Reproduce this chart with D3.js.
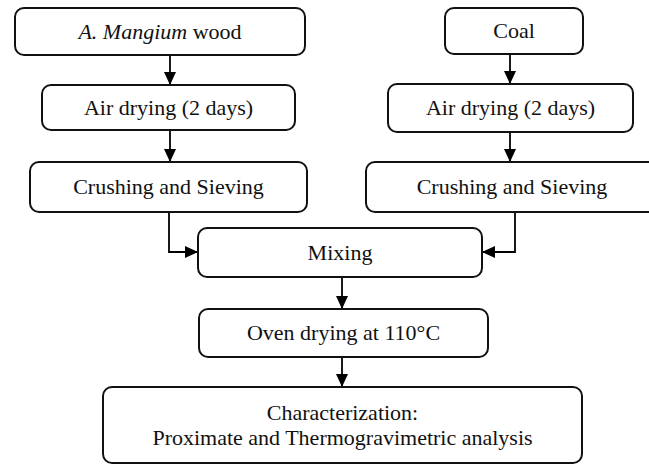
<!DOCTYPE html>
<html>
<head>
<meta charset="utf-8">
<script src="https://cdn.jsdelivr.net/npm/d3@7"></script>
<style>
  body { margin: 0; background: #fff; }
  text { font-family: "Liberation Serif", "Times New Roman", serif; fill: #111; }
</style>
</head>
<body>
<svg id="canvas" width="649" height="464"></svg>
<script>
/********** Data **********/
var steps = ["wood", "airL", "crushL", "coal", "airR", "crushR", "mix", "oven", "char"];
var labels = [
  [[{t: "A. Mangium", i: true}, {t: " wood"}]],
  [[{t: "Air drying (2 days)"}]],
  [[{t: "Crushing and Sieving"}]],
  [[{t: "Coal"}]],
  [[{t: "Air drying (2 days)"}]],
  [[{t: "Crushing and Sieving"}]],
  [[{t: "Mixing"}]],
  [[{t: "Oven drying at 110°C"}]],
  [[{t: "Characterization:"}], [{t: "Proximate and Thermogravimetric analysis"}]]
];
var links = [
  ["wood", "airL"], ["airL", "crushL"],
  ["coal", "airR"], ["airR", "crushR"],
  ["crushL", "mix"], ["crushR", "mix"],
  ["mix", "oven"], ["oven", "char"]
];

/********** Layout **********/
var box = {
  wood:   {x0: 15,  x1: 305, y0: 8,   y1: 55},
  airL:   {x0: 42,  x1: 295, y0: 85,  y1: 130},
  crushL: {x0: 30,  x1: 307, y0: 162, y1: 212},
  coal:   {x0: 445, x1: 583, y0: 8,   y1: 54},
  airR:   {x0: 388, x1: 633, y0: 84,  y1: 132},
  crushR: {x0: 366, x1: 660, y0: 162, y1: 212, tx: 512},
  mix:    {x0: 198, x1: 482, y0: 228, y1: 277},
  oven:   {x0: 199, x1: 488, y0: 309, y1: 357},
  char:   {x0: 103, x1: 582, y0: 387, y1: 463}
};
var colX = {wood: 170, airL: 170, crushL: 169, coal: 510, airR: 510, crushR: 515, mix: 342, oven: 342};
var joinY = 252;

var svg = d3.select("#canvas");

svg.append("defs").append("marker")
  .attr("id", "head")
  .attr("markerUnits", "userSpaceOnUse")
  .attr("viewBox", "0 0 13 12")
  .attr("refX", 13).attr("refY", 6)
  .attr("markerWidth", 13).attr("markerHeight", 12)
  .attr("orient", "auto")
  .append("path").attr("d", "M0,0L13,6L0,12Z").attr("fill", "#000");

/********** Links **********/
var line = d3.line();
function route(l) {
  var a = box[l[0]], b = box[l[1]], x = colX[l[0]];
  if (l[1] === "mix") {
    var tx = x < b.x0 ? b.x0 : b.x1;
    return [[x, a.y1], [x, joinY], [tx, joinY]];
  }
  return [[x, a.y1], [x, b.y0]];
}
svg.append("g").selectAll("path").data(links).enter().append("path")
  .attr("d", function(d) { return line(route(d)); })
  .attr("fill", "none")
  .attr("stroke", "#000")
  .attr("stroke-width", 1.8)
  .attr("marker-end", "url(#head)");

/********** Boxes **********/
var node = svg.append("g").selectAll("g").data(steps).enter().append("g");

node.append("rect")
  .attr("x", function(d) { return box[d].x0; })
  .attr("y", function(d) { return box[d].y0; })
  .attr("width", function(d) { return box[d].x1 - box[d].x0; })
  .attr("height", function(d) { return box[d].y1 - box[d].y0; })
  .attr("rx", 9).attr("ry", 9)
  .attr("fill", "#fff")
  .attr("stroke", "#111")
  .attr("stroke-width", 2);

node.each(function(d, i) {
  var b = box[d], lines = labels[i];
  var cx = b.tx || (b.x0 + b.x1) / 2;
  var cy = (b.y0 + b.y1) / 2;
  var lh = 25;
  var t = d3.select(this).append("text")
    .attr("text-anchor", "middle")
    .attr("font-size", 22);
  lines.forEach(function(parts, k) {
    var ln = t.append("tspan")
      .attr("x", cx)
      .attr("y", cy + (k - (lines.length - 1) / 2) * lh)
      .attr("dy", "0.33em");
    parts.forEach(function(p) {
      ln.append("tspan").attr("font-style", p.i ? "italic" : null).text(p.t);
    });
  });
});
</script>
</body>
</html>
